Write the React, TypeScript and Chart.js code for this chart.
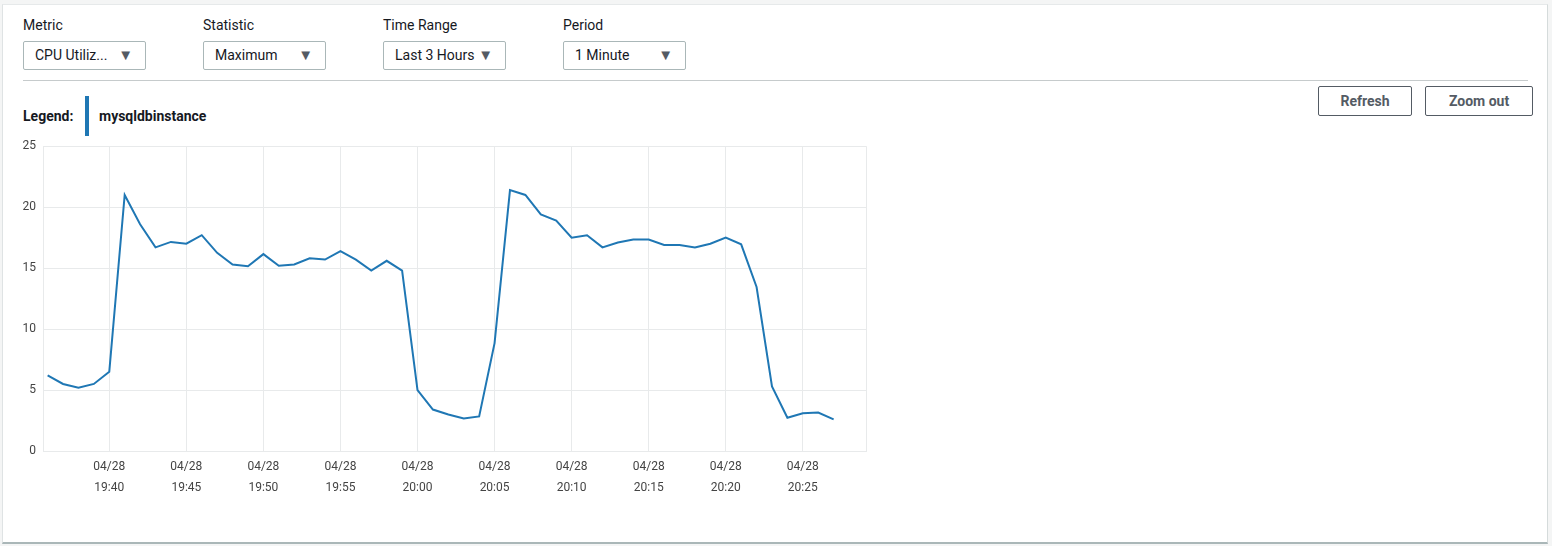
import React, { useEffect, useRef } from "react";
import { Chart, registerables } from "chart.js";

Chart.register(...registerables);

// minutes after 19:00 for each data point (19:36 .. 20:27)
const minutes: number[] = [
  36, 37, 38, 39, 40, 41, 42, 43, 44, 45, 46, 47, 48, 49, 50, 51, 52, 53, 54, 55,
  56, 57, 58, 59, 60, 61, 62, 63, 64, 65, 66, 67, 68, 69, 70, 71, 72, 73, 74, 75,
  76, 77, 78, 79, 80, 81, 82, 83, 84, 85, 86, 87,
];
const cpuMax: number[] = [
  6.2, 5.5, 5.2, 5.5, 6.5, 21.0, 18.6, 16.7, 17.15, 17.0, 17.7, 16.25, 15.3, 15.15, 16.15, 15.2, 15.3, 15.8, 15.7, 16.4,
  15.7, 14.8, 15.6, 14.8, 5.0, 3.4, 3.0, 2.67, 2.84, 8.85, 21.4, 21.0, 19.4, 18.9, 17.5, 17.7, 16.7, 17.1, 17.35, 17.35,
  16.9, 16.9, 16.7, 17.0, 17.5, 16.95, 13.45, 5.3, 2.73, 3.1, 3.15, 2.6,
];
const xTickMinutes: number[] = [40, 45, 50, 55, 60, 65, 70, 75, 80, 85];
const xTickDate = "04/28";
const xMin = 35.7;
const xMax = 89.1;
const yTicks: number[] = [0, 5, 10, 15, 20, 25];
const seriesName = "mysqldbinstance";

const controls = [
  { label: "Metric", value: "CPU Utiliz...", left: 23 },
  { label: "Statistic", value: "Maximum", left: 203 },
  { label: "Time Range", value: "Last 3 Hours", left: 383 },
  { label: "Period", value: "1 Minute", left: 563 },
];

const FONT = "Roboto, 'Noto Sans', sans-serif";

function fmt(m: number): string {
  const h = 19 + Math.floor(m / 60);
  const mm = Math.round(m % 60);
  return `${h}:${mm < 10 ? "0" + mm : mm}`;
}

export default function App() {
  const ref = useRef<HTMLCanvasElement | null>(null);
  useEffect(() => {
    if (!ref.current) return;
    const chart = new Chart(ref.current, {
      type: "line",
      data: {
        datasets: [
          {
            label: seriesName,
            data: minutes.map((m, i) => ({ x: m, y: cpuMax[i] })),
            borderColor: "#1f77b4",
            borderWidth: 2,
            pointRadius: 0,
            tension: 0,
            fill: false,
          },
        ],
      },
      options: {
        animation: false,
        responsive: false,
        maintainAspectRatio: false,
        layout: { padding: { top: 8, right: 14, left: 0, bottom: 0 } },
        plugins: { legend: { display: false }, tooltip: { enabled: false } },
        scales: {
          x: {
            type: "linear",
            min: xMin,
            max: xMax,
            afterBuildTicks: (s: any) => {
              s.ticks = [xMin, ...xTickMinutes, xMax].map((v) => ({ value: v }));
            },
            afterFit: (s: any) => {
              s.height = 54;
            },
            grid: { color: "#e8eaeb", drawTicks: false, lineWidth: 1 },
            border: { color: "#e8eaeb" },
            ticks: {
              autoSkip: false,
              maxRotation: 0,
              padding: 5,
              color: "#444",
              font: { family: FONT, size: 12, lineHeight: 1.75 },
              callback: (v: any) => {
                const n = Number(v);
                if (!xTickMinutes.includes(n)) return "";
                return [xTickDate, fmt(n)];
              },
            },
          },
          y: {
            min: 0,
            max: 25,
            afterBuildTicks: (s: any) => {
              s.ticks = yTicks.map((v) => ({ value: v }));
            },
            afterFit: (s: any) => {
              s.width = 43;
            },
            grid: { color: "#e8eaeb", drawTicks: false },
            border: { color: "#e8eaeb" },
            ticks: {
              padding: 7,
              color: "#444",
              font: { family: FONT, size: 12 },
            },
          },
        },
      },
    });
    return () => chart.destroy();
  }, []);

  return (
    <div
      style={{
        position: "fixed",
        left: 0,
        top: 0,
        width: 1552,
        height: 546,
        background: "#f4f5f5",
        fontFamily: FONT,
        color: "#16191f",
        overflow: "hidden",
      }}
    >
      <div
        style={{
          position: "absolute",
          left: 2,
          top: 4,
          width: 1546,
          height: 540,
          background: "#fff",
          borderLeft: "1px solid #dfe3e4",
          borderTop: "1px solid #e6e9ea",
          borderRight: "1px solid #d5dbdb",
          borderBottom: "2px solid #aab7b8",
          boxSizing: "border-box",
        }}
      />
      {controls.map((c) => (
        <React.Fragment key={c.label}>
          <div style={{ position: "absolute", left: c.left, top: 16, fontSize: 14, lineHeight: "18px" }}>{c.label}</div>
          <div
            style={{
              position: "absolute",
              left: c.left,
              top: 41,
              width: 123,
              height: 29,
              border: "1px solid #aab7b8",
              borderRadius: 2,
              boxSizing: "border-box",
              fontSize: 14,
              lineHeight: "27px",
              paddingLeft: 11,
              color: "#16191f",
            }}
          >
            {c.value}
            <span
              style={{
                position: "absolute",
                right: 12,
                top: 0,
                fontSize: 15,
                color: "#545b64",
              }}
            >
              ▼
            </span>
          </div>
        </React.Fragment>
      ))}
      <div style={{ position: "absolute", left: 23, top: 80, width: 1505, height: 1, background: "#c6cbcc" }} />
      {[
        { t: "Refresh", left: 1318, w: 94 },
        { t: "Zoom out", left: 1425, w: 108 },
      ].map((b) => (
        <div
          key={b.t}
          style={{
            position: "absolute",
            left: b.left,
            top: 86,
            width: b.w,
            height: 30,
            border: "1px solid #545b64",
            borderRadius: 2,
            boxSizing: "border-box",
            fontSize: 14,
            fontWeight: 700,
            color: "#545b64",
            textAlign: "center",
            lineHeight: "28px",
          }}
        >
          {b.t}
        </div>
      ))}
      <div style={{ position: "absolute", left: 23, top: 107, fontSize: 14, fontWeight: 700, lineHeight: "18px" }}>
        Legend:
      </div>
      <div style={{ position: "absolute", left: 85, top: 96, width: 4, height: 40, background: "#1f77b4" }} />
      <div style={{ position: "absolute", left: 99, top: 107, fontSize: 14, fontWeight: 700, lineHeight: "18px" }}>
        {seriesName}
      </div>
      <canvas
        ref={ref}
        width={880}
        height={373}
        style={{ position: "absolute", left: 0, top: 132, width: 880, height: 373 }}
      />
    </div>
  );
}
